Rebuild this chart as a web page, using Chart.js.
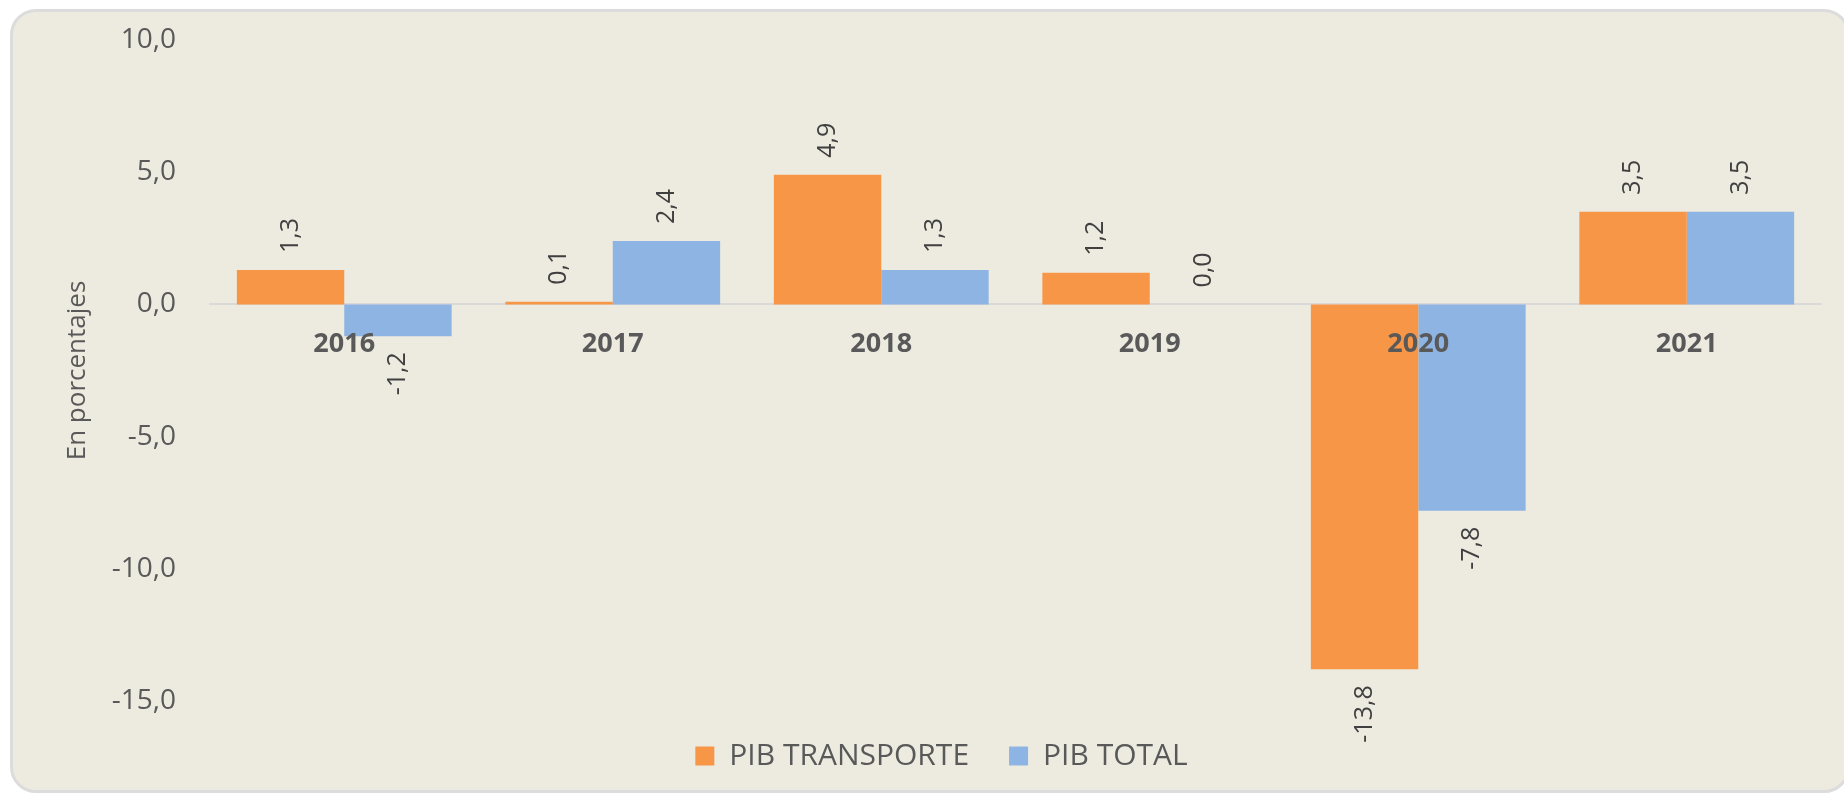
<!DOCTYPE html>
<html>
<head>
<meta charset="utf-8">
<script src="https://cdn.jsdelivr.net/npm/chart.js@4"></script>
<style>
  html, body { margin: 0; padding: 0; background: #ffffff; }
  #panel {
    position: absolute; left: 10px; top: 9px; width: 1840px; height: 784px;
    box-sizing: border-box; background: #edebe0;
    border: 3px solid #dcdcdc; border-radius: 26px;
  }
  #wrap { position: absolute; left: 0; top: 0; width: 1844px; height: 794px; }
</style>
</head>
<body>
<div id="panel"></div>
<div id="wrap"><canvas id="myChart"></canvas></div>
<script>
const years = ["2016", "2017", "2018", "2019", "2020", "2021"];
const pibTransporte = [1.3, 0.1, 4.9, 1.2, -13.8, 3.5];
const pibTotal = [-1.2, 2.4, 1.3, 0.0, -7.8, 3.5];
const yTicks = [-15, -10, -5, 0, 5, 10];

const fmt = (v) => v.toFixed(1).replace(".", ",");

// etiquetas giradas sobre/bajo cada barra
const barLabels = {
  id: "barLabels",
  afterDatasetsDraw(chart) {
    const c = chart.ctx;
    c.save();
    c.font = "25px 'Open Sans'";
    c.fillStyle = "#404040";
    c.textBaseline = "middle";
    chart.data.datasets.forEach((ds, i) => {
      chart.getDatasetMeta(i).data.forEach((bar, j) => {
        const v = ds.data[j];
        c.save();
        if (v >= 0) {
          c.translate(bar.x, bar.y - 17);
          c.rotate(-Math.PI / 2);
          c.textAlign = "left";
        } else {
          c.translate(bar.x, bar.y + 16);
          c.rotate(-Math.PI / 2);
          c.textAlign = "right";
        }
        c.fillText(fmt(v), 0, 0);
        c.restore();
      });
    });
    c.restore();
  },
};

const ctx = document.getElementById("myChart");

new Chart(ctx, {
  type: "bar",
  data: {
    labels: years,
    datasets: [
      {
        label: "PIB TRANSPORTE",
        data: pibTransporte,
        backgroundColor: "#f79646",
        categoryPercentage: 0.8,
        barPercentage: 1.0,
      },
      {
        label: "PIB TOTAL",
        data: pibTotal,
        backgroundColor: "#8eb4e3",
        categoryPercentage: 0.8,
        barPercentage: 1.0,
      },
    ],
  },
  options: {
    responsive: true,
    maintainAspectRatio: false,
    animation: false,
    layout: {
      padding: { left: 62, right: 23, top: 40, bottom: 13 },
    },
    plugins: {
      tooltip: { enabled: false },
      legend: {
        position: "bottom",
        labels: {
          boxWidth: 19,
          boxHeight: 19,
          padding: 40,
          color: "#595959",
          font: { family: "'Open Sans'", size: 30 },
        },
      },
    },
    scales: {
      x: {
        position: { y: 0 },
        grid: { display: false, drawTicks: false },
        border: { display: true, color: "#d9d9d9", width: 2 },
        ticks: {
          z: 1,
          color: "#595959",
          padding: 24,
          font: { family: "'Open Sans'", size: 27, weight: "bold" },
        },
        afterFit: (s) => {
          s.height = 0;
        },
      },
      y: {
        min: -15,
        max: 10,
        afterBuildTicks: (s) => {
          s.ticks = yTicks.map((v) => ({ value: v }));
        },
        grid: { display: false, drawTicks: true, tickLength: 30 },
        border: { display: false },
        ticks: {
          color: "#595959",
          padding: 4,
          font: { family: "'Open Sans'", size: 28 },
          callback: (v) => fmt(v),
        },
        title: {
          display: true,
          text: "En porcentajes",
          color: "#595959",
          padding: { top: 0, bottom: 0 },
          font: { family: "'Open Sans'", size: 26 },
        },
        afterFit: (s) => {
          s.width = 148;
        },
      },
    },
  },
  plugins: [barLabels],
});
</script>
</body>
</html>
